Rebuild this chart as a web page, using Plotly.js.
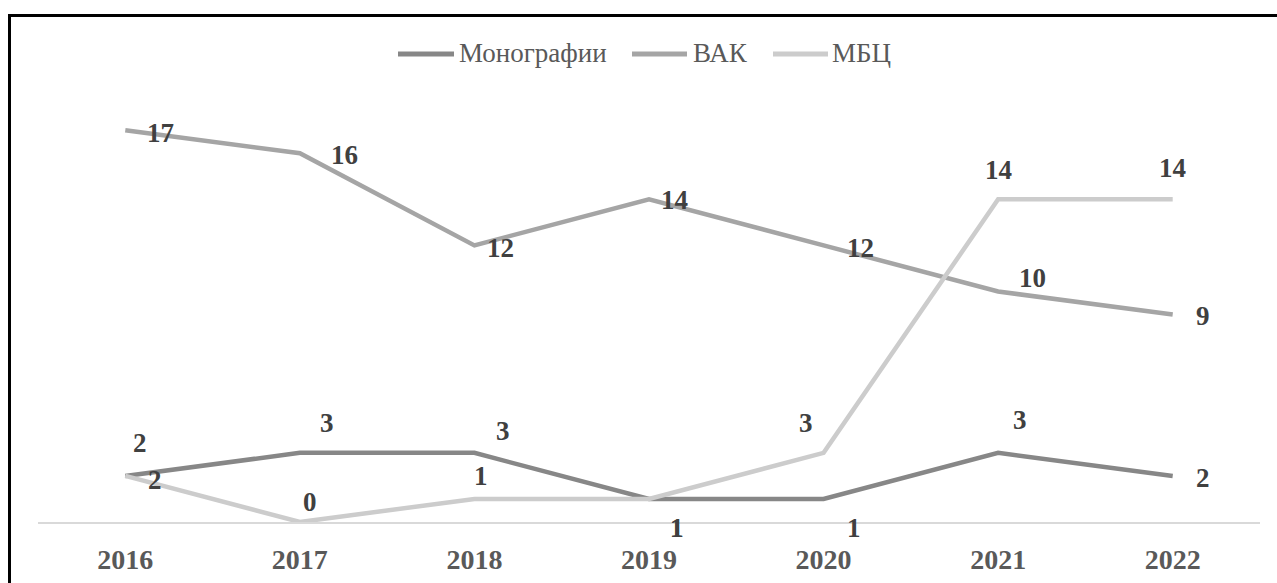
<!DOCTYPE html>
<html>
<head>
<meta charset="utf-8">
<script src="https://cdn.plot.ly/plotly-3.0.1.min.js"></script>
<style>
  html, body { margin: 0; padding: 0; background: #fff; }
  #wrap { position: relative; width: 1277px; height: 583px; overflow: hidden; }
  #chart { width: 1277px; height: 583px; }
  #frame { position: absolute; left: 8px; top: 14px; width: 1300px; height: 620px;
           border-left: 3px solid #000; border-top: 3px solid #000; pointer-events: none; }
</style>
</head>
<body>
<div id="wrap">
  <div id="chart"></div>
  <div id="frame"></div>
</div>
<script>
// ---- data ----
const years = ['2016', '2017', '2018', '2019', '2020', '2021', '2022'];
const monographs = [2, 3, 3, 1, 1, 3, 2];
const vak = [17, 16, 12, 14, 12, 10, 9];
const mbc = [2, 0, 1, 1, 3, 14, 14];
const seriesNames = ['Монографии', 'ВАК', 'МБЦ'];

// ---- styling ----
const colors = ['#878787', '#a5a5a5', '#cccccc'];
const FONT = 'Liberation Serif';
const W = 1277, H = 583;
const M = { l: 38, r: 17, t: 61, b: 61 };
const plotW = W - M.l - M.r, plotH = H - M.t - M.b;
const px2paperX = px => (px - M.l) / plotW;
const px2paperY = py => (H - M.b - py) / plotH;

// data-label offsets in pixels [dx, dy] (dy positive = up)
const offsets = [
  [[15, 33], [27, 30], [29, 22], [28, -29], [30, -29], [22, 33], [30, -2]],
  [[35, -3], [45, -2], [26, -3], [25, -1], [37, -3], [34, 14], [30, -1]],
  [[30, -4], [10, 20], [7, 23], [28, -29], [-18, 30], [0, 29], [0, 31]]
];
// custom legend geometry in pixels: [lineStart, lineEnd, textStart]
const legendPx = [[398, 454, 457], [632, 687, 691], [773, 828, 830]];
const legendY = 54;

const allSeries = [monographs, vak, mbc];
const traces = allSeries.map((vals, i) => ({
  type: 'scatter',
  mode: 'lines',
  name: seriesNames[i],
  x: years,
  y: vals,
  line: { color: colors[i], width: 4.5 },
  showlegend: false
}));

const annotations = [];
allSeries.forEach((vals, i) => {
  vals.forEach((v, j) => {
    annotations.push({
      x: j, y: v, xref: 'x', yref: 'y',
      text: '<b>' + v + '</b>', showarrow: false,
      xshift: offsets[i][j][0], yshift: offsets[i][j][1],
      font: { family: FONT, size: 27, color: '#404040' }
    });
  });
});

const shapes = [];
seriesNames.forEach((name, i) => {
  const [a, b, t] = legendPx[i];
  shapes.push({
    type: 'line', xref: 'paper', yref: 'paper',
    x0: px2paperX(a), x1: px2paperX(b), y0: px2paperY(legendY), y1: px2paperY(legendY),
    line: { color: colors[i], width: 5 }
  });
  annotations.push({
    xref: 'paper', yref: 'paper', x: px2paperX(t), y: px2paperY(legendY),
    xanchor: 'left', yanchor: 'middle', yshift: 1,
    text: name, showarrow: false,
    font: { family: FONT, size: 27, color: '#595959' }
  });
});

const layout = {
  width: W, height: H,
  margin: M,
  paper_bgcolor: '#ffffff',
  plot_bgcolor: '#ffffff',
  font: { family: FONT },
  showlegend: false,
  xaxis: {
    type: 'category', range: [-0.5, 6.5],
    showgrid: false, zeroline: false,
    showline: true, linecolor: '#d9d9d9', linewidth: 2,
    ticks: '', ticklabelstandoff: 11,
    tickfont: { family: FONT, size: 28, color: '#595959', weight: 'bold' }
  },
  yaxis: {
    range: [0, 20], showgrid: false, zeroline: false, showline: false,
    showticklabels: false, ticks: ''
  },
  shapes: shapes,
  annotations: annotations
};

Plotly.newPlot('chart', traces, layout, { displayModeBar: false });
</script>
</body>
</html>
